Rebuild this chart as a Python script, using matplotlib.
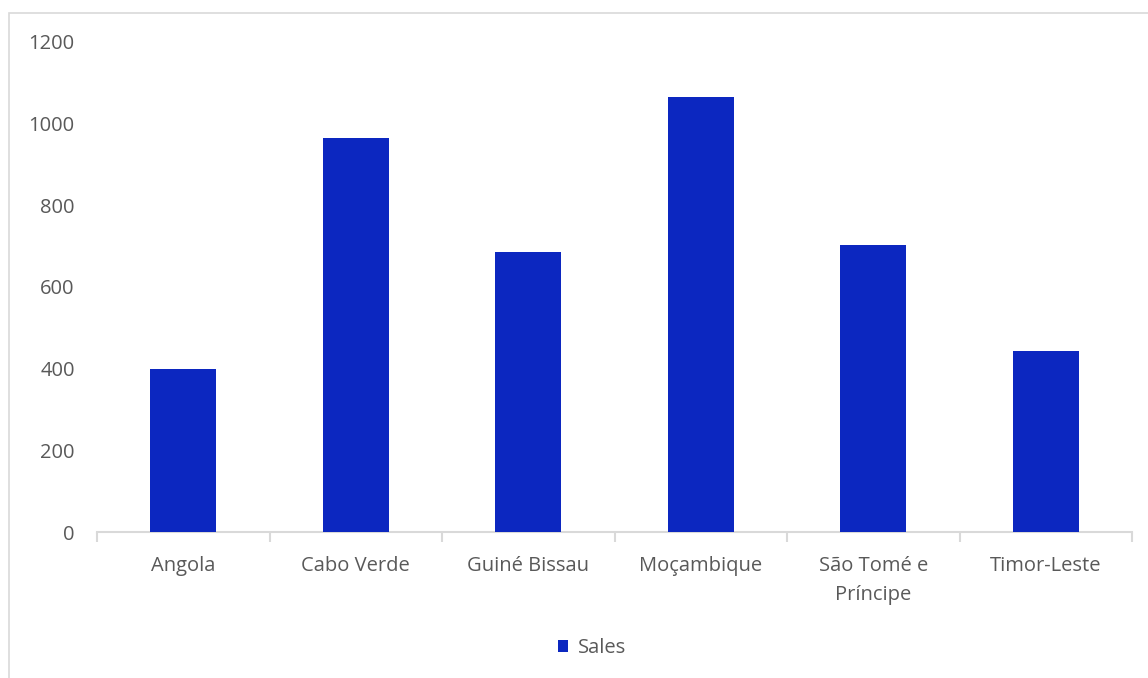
import numpy as np
import matplotlib.pyplot as plt
from matplotlib.patches import Rectangle

countries = ["Angola", "Cabo Verde", "Guiné Bissau", "Moçambique", "São Tomé e\nPríncipe", "Timor-Leste"]
sales = [400, 965, 685, 1066, 703, 443]
y_ticks = [0, 200, 400, 600, 800, 1000, 1200]

bar_color = "#0C27C0"
text_color = "#595959"
line_color = "#D9D9D9"

plt.rcParams["font.family"] = ["Open Sans", "DejaVu Sans"]

fig = plt.figure(figsize=(11.48, 6.78), dpi=100)
# chart area border (Excel style)
fig.patches.append(Rectangle((9 / 1148, -0.01), 1.1, 1 - 13 / 678 + 0.01, transform=fig.transFigure,
                             fill=False, edgecolor=line_color, linewidth=1.2))

ax = fig.add_axes([97 / 1148, 1 - 532 / 678, (1132 - 97) / 1148, (532 - 42) / 678])

x = np.arange(len(countries))
ax.bar(x, sales, width=0.38, color=bar_color, label="Sales", zorder=3)

ax.set_xlim(-0.5, len(countries) - 0.5)
ax.set_ylim(0, 1200)
ax.set_yticks(y_ticks)
ax.tick_params(axis="y", length=0, labelsize=14.5, labelcolor=text_color, pad=16)

ax.set_xticks(x)
ax.set_xticklabels(countries, fontsize=14.5, color=text_color, linespacing=1.6)
ax.tick_params(axis="x", length=0, pad=17)
ax.set_xticks(np.arange(-0.5, len(countries)), minor=True)
ax.tick_params(axis="x", which="minor", length=7, color=line_color, width=1.5)

for side in ["top", "right", "left"]:
    ax.spines[side].set_visible(False)
ax.spines["bottom"].set_color(line_color)
ax.spines["bottom"].set_linewidth(1.5)

fig.legend(loc="center", bbox_to_anchor=(592 / 1148, 1 - 648 / 678), frameon=False,
           handlelength=0.5, handleheight=0.5, handletextpad=0.5,
           prop={"size": 14.5}, labelcolor=text_color)

fig.savefig("out.png", dpi=100)
